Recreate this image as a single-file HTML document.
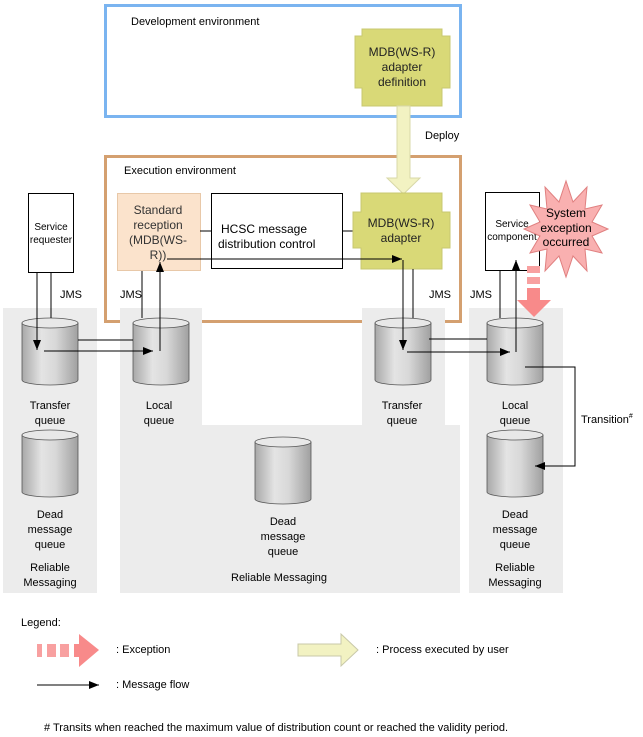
<!DOCTYPE html>
<html><head><meta charset="utf-8"><style>
body{margin:0;background:#fff}
svg{display:block;font-family:"Liberation Sans",sans-serif;font-size:11px}
</style></head><body>
<svg width="643" height="737" viewBox="0 0 643 737" xmlns="http://www.w3.org/2000/svg">
<defs>
<linearGradient id="cg" x1="0" x2="1" y1="0" y2="0">
<stop offset="0" stop-color="#a8a8a8"/><stop offset="0.35" stop-color="#e4e4e4"/><stop offset="0.6" stop-color="#d8d8d8"/><stop offset="1" stop-color="#a0a0a0"/>
</linearGradient>
<marker id="ah" markerWidth="10" markerHeight="8" refX="10" refY="4" orient="auto" markerUnits="userSpaceOnUse"><path d="M0,0 L10,4 L0,8 Z" fill="#000"/></marker>
<g id="cyl">
<path d="M0,5 L0,62 A28,5 0 0 0 56,62 L56,5 Z" fill="url(#cg)" stroke="#555" stroke-width="0.8"/>
<ellipse cx="28" cy="5" rx="28" ry="5" fill="#e8e8e8" stroke="#555" stroke-width="0.8"/>
</g>
</defs>

<!-- dev env -->
<rect x="105.5" y="5.5" width="355" height="111" fill="none" stroke="#7ab4f0" stroke-width="3"/>
<text x="131" y="25">Development environment</text>
<path d="M362,29 H442 V36 H450 V88 H442 V106 H362 V88 H355 V36 H362 Z" fill="#d9d977" stroke="#c8c870"/>
<text text-anchor="middle" font-size="12" fill="#222"><tspan x="402" y="56">MDB(WS-R)</tspan><tspan x="402" y="71">adapter</tspan><tspan x="402" y="86">definition</tspan></text>

<!-- exec env -->
<rect x="105.5" y="156.5" width="355" height="165" fill="none" stroke="#d4a070" stroke-width="3"/>
<text x="124" y="174">Execution environment</text>

<!-- grey panels (over exec box bottom) -->
<rect x="3" y="308" width="94" height="285" fill="#ececec"/>
<path d="M120,308 H202 V425 H362 V308 H445 V425 H460 V593 H120 Z" fill="#ececec"/>
<rect x="469" y="308" width="94" height="285" fill="#ececec"/>

<!-- deploy arrow -->
<path d="M397,106 H410 V178 H420 L403.5,194 L387,178 H397 Z" fill="#f2f2c2" stroke="#d8d8a8"/>
<text x="425" y="139">Deploy</text>

<!-- standard reception -->
<rect x="117.5" y="193.5" width="83" height="77" fill="#fbe3cc" stroke="#e8c8a8"/>
<text text-anchor="middle" font-size="12" fill="#333"><tspan x="158" y="214">Standard</tspan><tspan x="158" y="229">reception</tspan><tspan x="158" y="244">(MDB(WS-</tspan><tspan x="158" y="259">R))</tspan></text>
<rect x="211.5" y="193.5" width="131" height="75" fill="#fff" stroke="#000"/>
<text font-size="12"><tspan x="221" y="233">HCSC message</tspan><tspan x="218" y="248">distribution control</tspan></text>
<line x1="200" y1="231" x2="211" y2="231" stroke="#000"/>
<line x1="342" y1="231" x2="355" y2="231" stroke="#000"/>
<path d="M361,193 H442 V212 H450 V248 H442 V269 H361 V248 H353 V212 H361 Z" fill="#d9d977" stroke="#c8c870"/>
<text text-anchor="middle" font-size="12" fill="#222"><tspan x="401" y="227">MDB(WS-R)</tspan><tspan x="401" y="242">adapter</tspan></text>
<line x1="167" y1="259" x2="402" y2="259" stroke="#000" marker-end="url(#ah)"/>

<!-- service requester -->
<rect x="28.5" y="193.5" width="45" height="79" fill="#fff" stroke="#000"/>
<text text-anchor="middle" font-size="10"><tspan x="51" y="230">Service</tspan><tspan x="51" y="243">requester</tspan></text>

<!-- service component -->
<rect x="485.5" y="192.5" width="54" height="78" fill="#fff" stroke="#000"/>
<text text-anchor="middle" font-size="10"><tspan x="512" y="227">Service</tspan><tspan x="512" y="240">component</tspan></text>
<polygon points="608,229 592,236 602,253 585,249 587,271 573,256 566,277 559,256 545,271 547,249 530,253 540,236 524,229 540,222 530,205 547,209 545,187 559,202 566,181 573,202 587,187 585,209 602,205 592,222" fill="#f9b0b0" stroke="#e08080"/>
<text text-anchor="middle" font-size="12"><tspan x="566" y="217">System</tspan><tspan x="566" y="232">exception</tspan><tspan x="566" y="246">occurred</tspan></text>

<!-- exception arrow -->
<g fill="#f88a8a">
<rect x="527" y="266" width="13" height="7" fill="#f8a0a0"/>
<rect x="527" y="277" width="13" height="7" fill="#f8a0a0"/>
<rect x="527" y="288" width="13" height="13"/>
<path d="M517,300 H551 L534,317 Z"/>
</g>

<!-- cylinders -->
<use href="#cyl" x="22" y="318"/>
<use href="#cyl" x="133" y="318"/>
<use href="#cyl" x="375" y="318"/>
<use href="#cyl" x="487" y="318"/>
<use href="#cyl" x="22" y="430"/>
<use href="#cyl" x="255" y="437"/>
<use href="#cyl" x="487" y="430"/>

<!-- connectors -->
<g stroke="#000" fill="none">
<line x1="37" y1="273" x2="37" y2="350" marker-end="url(#ah)"/>
<line x1="51" y1="273" x2="51" y2="318"/>
<line x1="78" y1="340" x2="133" y2="340"/>
<line x1="44" y1="351" x2="153" y2="351" marker-end="url(#ah)"/>
<line x1="160" y1="351" x2="160" y2="262" marker-end="url(#ah)"/>
<line x1="142" y1="271" x2="142" y2="318"/>
<line x1="403" y1="260" x2="403" y2="350" marker-end="url(#ah)"/>
<line x1="413" y1="269" x2="413" y2="318"/>
<line x1="429" y1="339" x2="487" y2="339"/>
<line x1="407" y1="352" x2="510" y2="352" marker-end="url(#ah)"/>
<line x1="516" y1="352" x2="516" y2="260" marker-end="url(#ah)"/>
<line x1="500" y1="270" x2="500" y2="318"/>
<path d="M525,367 H575 V466 H535" marker-end="url(#ah)"/>
</g>

<g font-size="11">
<text x="60" y="298">JMS</text>
<text x="120" y="298">JMS</text>
<text x="429" y="298">JMS</text>
<text x="470" y="298">JMS</text>
<text x="581" y="423">Transition<tspan font-size="7" dy="-5">#</tspan></text>
</g>
<g text-anchor="middle" font-size="11">
<text x="50" y="409">Transfer</text><text x="50" y="424">queue</text>
<text x="159" y="409">Local</text><text x="159" y="424">queue</text>
<text x="402" y="409">Transfer</text><text x="402" y="424">queue</text>
<text x="515" y="409">Local</text><text x="515" y="424">queue</text>
<text x="50" y="518">Dead</text><text x="50" y="533">message</text><text x="50" y="548">queue</text>
<text x="283" y="525">Dead</text><text x="283" y="540">message</text><text x="283" y="555">queue</text>
<text x="515" y="518">Dead</text><text x="515" y="533">message</text><text x="515" y="548">queue</text>
<text x="50" y="571">Reliable</text><text x="50" y="586">Messaging</text>
<text x="515" y="571">Reliable</text><text x="515" y="586">Messaging</text>
<text x="279" y="581">Reliable Messaging</text>
</g>

<!-- legend -->
<text x="21" y="626">Legend:</text>
<g fill="#f88a8a">
<rect x="37" y="644" width="5" height="13" fill="#f8a0a0"/>
<rect x="47" y="644" width="9" height="13" fill="#f8a0a0"/>
<rect x="60" y="644" width="9" height="13" fill="#f8a0a0"/>
<rect x="74" y="644" width="6" height="13"/>
<path d="M79,634 L99,650 L79,667 Z"/>
</g>
<text x="116" y="653">: Exception</text>
<path d="M298,644 H341 V634 L358,650 L341,666 V656 H298 Z" fill="#f2f2c2" stroke="#c8c8a8"/>
<text x="376" y="653">: Process executed by user</text>
<line x1="37" y1="685" x2="99" y2="685" stroke="#000" marker-end="url(#ah)"/>
<text x="116" y="688">: Message flow</text>
<text x="44" y="731">#  Transits when reached the maximum value of distribution count or reached the validity period.</text>
</svg>
</body></html>
